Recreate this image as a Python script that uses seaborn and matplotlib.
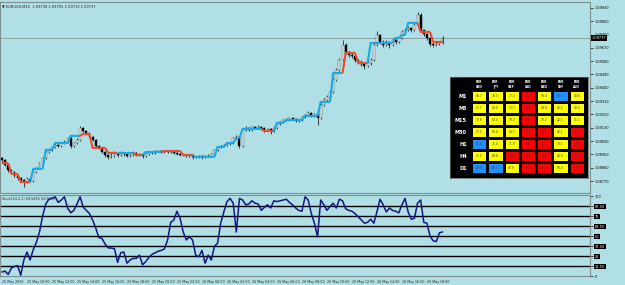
import numpy as np
import pandas as pd
import matplotlib
matplotlib.use("Agg")
import matplotlib.pyplot as plt
import seaborn as sns
from matplotlib.colors import ListedColormap, BoundaryNorm

# ---- EURUSD M15 bars, 25 May 2020 08:00 onward ----
opens = [
    1.08925, 1.08912, 1.08878, 1.08844, 1.08831, 1.08804, 1.08790, 1.08777, 1.08763, 1.08784,
    1.08770, 1.08831, 1.08858, 1.08892, 1.08926, 1.08966, 1.08980, 1.09000, 1.09014, 1.09007,
    1.09027, 1.09034, 1.09061, 1.09007, 1.09027, 1.09048, 1.09129, 1.09108, 1.09088, 1.09068,
    1.09048, 1.09007, 1.08994, 1.08966, 1.08946, 1.08933, 1.08939, 1.08953, 1.08946, 1.08960,
    1.08953, 1.08939, 1.08946, 1.08960, 1.08946, 1.08953, 1.08939, 1.08953, 1.08966, 1.08960,
    1.08973, 1.08973, 1.08966, 1.08973, 1.08966, 1.08973, 1.08960, 1.08953, 1.08946, 1.08946,
    1.08939, 1.08946, 1.08933, 1.08933, 1.08939, 1.08933, 1.08939, 1.08939, 1.08953, 1.08980,
    1.09000, 1.09007, 1.09014, 1.09020, 1.09027, 1.09061, 1.09068, 1.09007, 1.09115, 1.09129,
    1.09115, 1.09135, 1.09129, 1.09135, 1.09129, 1.09115, 1.09122, 1.09108, 1.09129, 1.09156,
    1.09169, 1.09183, 1.09183, 1.09196, 1.09190, 1.09176, 1.09183, 1.09203, 1.09217, 1.09230,
    1.09210, 1.09223, 1.09196, 1.09284, 1.09318, 1.09338, 1.09372, 1.09453, 1.09521, 1.09588,
    1.09690, 1.09642, 1.09622, 1.09615, 1.09588, 1.09575, 1.09561, 1.09548, 1.09568, 1.09588,
    1.09690, 1.09757, 1.09710, 1.09690, 1.09710, 1.09690, 1.09724, 1.09710, 1.09737, 1.09778,
    1.09791, 1.09805, 1.09791, 1.09825, 1.09893, 1.09791, 1.09764, 1.09737, 1.09697, 1.09690,
    1.09697, 1.09703,
]
closes = [
    1.08912, 1.08878, 1.08844, 1.08831, 1.08804, 1.08790, 1.08777, 1.08763, 1.08784, 1.08770,
    1.08831, 1.08858, 1.08892, 1.08926, 1.08966, 1.08980, 1.09000, 1.09014, 1.09007, 1.09027,
    1.09034, 1.09061, 1.09007, 1.09027, 1.09048, 1.09129, 1.09108, 1.09088, 1.09068, 1.09048,
    1.09007, 1.08994, 1.08966, 1.08946, 1.08933, 1.08939, 1.08953, 1.08946, 1.08960, 1.08953,
    1.08939, 1.08946, 1.08960, 1.08946, 1.08953, 1.08939, 1.08953, 1.08966, 1.08960, 1.08973,
    1.08973, 1.08966, 1.08973, 1.08966, 1.08973, 1.08960, 1.08953, 1.08946, 1.08946, 1.08939,
    1.08946, 1.08933, 1.08933, 1.08939, 1.08933, 1.08939, 1.08939, 1.08953, 1.08980, 1.09000,
    1.09007, 1.09014, 1.09020, 1.09027, 1.09061, 1.09068, 1.09007, 1.09115, 1.09129, 1.09115,
    1.09135, 1.09129, 1.09135, 1.09129, 1.09115, 1.09122, 1.09108, 1.09129, 1.09156, 1.09169,
    1.09183, 1.09183, 1.09196, 1.09190, 1.09176, 1.09183, 1.09203, 1.09217, 1.09230, 1.09210,
    1.09223, 1.09196, 1.09284, 1.09318, 1.09338, 1.09372, 1.09453, 1.09521, 1.09588, 1.09690,
    1.09642, 1.09622, 1.09615, 1.09588, 1.09575, 1.09561, 1.09548, 1.09568, 1.09588, 1.09690,
    1.09757, 1.09710, 1.09690, 1.09710, 1.09690, 1.09724, 1.09710, 1.09737, 1.09778, 1.09791,
    1.09805, 1.09791, 1.09825, 1.09893, 1.09791, 1.09764, 1.09737, 1.09697, 1.09690, 1.09697,
    1.09703, 1.09737,
]
highs = [
    1.08935, 1.08920, 1.08885, 1.08852, 1.08840, 1.08812, 1.08800, 1.08785, 1.08795, 1.08792,
    1.08840, 1.08866, 1.08900, 1.08935, 1.08975, 1.08992, 1.09010, 1.09025, 1.09022, 1.09040,
    1.09045, 1.09070, 1.09068, 1.09035, 1.09058, 1.09140, 1.09136, 1.09115, 1.09100, 1.09075,
    1.09055, 1.09015, 1.09000, 1.08975, 1.08955, 1.08960, 1.08970, 1.08962, 1.08975, 1.08968,
    1.08960, 1.08955, 1.08972, 1.08966, 1.08962, 1.08960, 1.08960, 1.08975, 1.08972, 1.08982,
    1.08980, 1.08978, 1.08980, 1.08976, 1.08982, 1.08978, 1.08965, 1.08958, 1.08955, 1.08952,
    1.08955, 1.08950, 1.08940, 1.08948, 1.08945, 1.08946, 1.08950, 1.08960, 1.08988, 1.09008,
    1.09015, 1.09022, 1.09030, 1.09035, 1.09070, 1.09080, 1.09075, 1.09125, 1.09140, 1.09136,
    1.09145, 1.09142, 1.09148, 1.09140, 1.09136, 1.09130, 1.09128, 1.09138, 1.09165, 1.09178,
    1.09192, 1.09195, 1.09205, 1.09202, 1.09198, 1.09190, 1.09212, 1.09226, 1.09242, 1.09236,
    1.09232, 1.09228, 1.09295, 1.09328, 1.09350, 1.09385, 1.09465, 1.09535, 1.09602, 1.09722,
    1.09700, 1.09652, 1.09632, 1.09625, 1.09598, 1.09585, 1.09570, 1.09580, 1.09600, 1.09702,
    1.09785, 1.09765, 1.09720, 1.09722, 1.09718, 1.09735, 1.09732, 1.09748, 1.09790, 1.09802,
    1.09818, 1.09812, 1.09836, 1.09915, 1.09905, 1.09800, 1.09772, 1.09745, 1.09706, 1.09708,
    1.09714, 1.09752,
]
lows = [
    1.08900, 1.08870, 1.08830, 1.08820, 1.08795, 1.08775, 1.08765, 1.08730, 1.08755, 1.08760,
    1.08762, 1.08822, 1.08850, 1.08885, 1.08918, 1.08958, 1.08972, 1.08992, 1.08998, 1.09000,
    1.09018, 1.09028, 1.08995, 1.09000, 1.09020, 1.09042, 1.09100, 1.09080, 1.09060, 1.09040,
    1.09000, 1.08985, 1.08958, 1.08935, 1.08920, 1.08925, 1.08930, 1.08935, 1.08940, 1.08942,
    1.08930, 1.08932, 1.08940, 1.08938, 1.08936, 1.08928, 1.08932, 1.08948, 1.08952, 1.08955,
    1.08965, 1.08958, 1.08960, 1.08960, 1.08962, 1.08952, 1.08945, 1.08940, 1.08938, 1.08930,
    1.08933, 1.08922, 1.08925, 1.08926, 1.08920, 1.08928, 1.08930, 1.08932, 1.08948, 1.08975,
    1.08992, 1.09000, 1.09008, 1.09012, 1.09020, 1.09052, 1.08995, 1.09000, 1.09108, 1.09105,
    1.09108, 1.09120, 1.09122, 1.09118, 1.09100, 1.09108, 1.09090, 1.09100, 1.09122, 1.09150,
    1.09162, 1.09175, 1.09176, 1.09182, 1.09168, 1.09170, 1.09178, 1.09196, 1.09210, 1.09202,
    1.09204, 1.09150, 1.09190, 1.09275, 1.09308, 1.09330, 1.09365, 1.09445, 1.09512, 1.09580,
    1.09630, 1.09608, 1.09600, 1.09575, 1.09560, 1.09545, 1.09530, 1.09538, 1.09555, 1.09580,
    1.09682, 1.09700, 1.09675, 1.09680, 1.09670, 1.09682, 1.09698, 1.09702, 1.09730, 1.09770,
    1.09784, 1.09780, 1.09785, 1.09818, 1.09782, 1.09750, 1.09726, 1.09685, 1.09678, 1.09682,
    1.09690, 1.09698,
]

# trend step line: first bar of each step, its level and direction (1 up / -1 down)
step_start = [0, 3, 6, 10, 14, 17, 22, 26, 29, 34, 38, 43, 46, 52, 58, 62, 69, 72, 75, 77,
              84, 88, 91, 97, 102, 106, 110, 114, 118, 126, 128, 130, 134, 138]
step_level = [1.08892, 1.08818, 1.08763, 1.08852, 1.08980, 1.09027, 1.09075, 1.09088, 1.08994, 1.08960,
              1.08960, 1.08946, 1.08966, 1.08973, 1.08946, 1.08933, 1.09000, 1.09027, 1.09061, 1.09122,
              1.09108, 1.09163, 1.09183, 1.09210, 1.09304, 1.09500, 1.09636, 1.09568, 1.09703, 1.09737,
              1.09757, 1.09839, 1.09778, 1.09710]
step_trend = [-1, -1, -1, 1, 1, 1, 1, -1, -1, -1, 1, -1, 1, -1, -1, 1, 1, 1, 1, 1,
              -1, 1, 1, 1, 1, 1, -1, -1, 1, 1, 1, 1, -1, -1]

# Stochastic(14,1,1) main line
stoch = [
    5, 6, 2, 10, 12, 13, 1, 20, 30, 20,
    33, 42, 55, 75, 90, 96, 97, 99, 92, 95,
    99, 85, 79, 82, 90, 99, 86, 82, 78, 70,
    60, 48, 47, 40, 35, 35, 34, 17, 29, 30,
    16, 20, 22, 22, 26, 14, 18, 23, 27, 29,
    31, 32, 34, 45, 67, 70, 81, 72, 55, 45,
    49, 45, 26, 24, 32, 16, 26, 20, 37, 41,
    66, 80, 93, 97, 91, 55, 97, 95, 89, 90,
    94, 91, 90, 82, 86, 89, 85, 94, 93, 94,
    95, 96, 92, 89, 85, 82, 81, 99, 95, 78,
    66, 49, 95, 89, 82, 87, 91, 85, 96, 94,
    84, 82, 81, 78, 74, 70, 66, 67, 71, 66,
    80, 96, 89, 80, 85, 82, 81, 79, 89, 97,
    80, 71, 72, 91, 95, 67, 66, 50, 44, 43,
    54, 55,
]
stoch_levels = [87.5, 75, 62.5, 50, 37.5, 25, 12.5]

time_labels = ["25 May 2020", "25 May 10:00", "25 May 12:00", "25 May 14:00", "25 May 16:00",
               "25 May 18:00", "25 May 20:00", "25 May 22:00", "26 May 00:00", "26 May 02:00",
               "26 May 04:00", "26 May 06:00", "26 May 08:00", "26 May 10:00", "26 May 12:00",
               "26 May 14:00", "26 May 16:00", "26 May 18:00"]
price_ticks = [1.08770, 1.08860, 1.08950, 1.09040, 1.09130, 1.09220, 1.09310,
               1.09400, 1.09490, 1.09580, 1.09670, 1.09760, 1.09850, 1.09940]
last_price = 1.09737

# ---- currency strength table ----
timeframes = ["M1", "M5", "M15", "M30", "H1", "H4", "D1"]
pairs = ["EUR\nUSD", "EUR\nJPY", "EUR\nGBP", "EUR\nCAD", "EUR\nNZD", "EUR\nCHF", "EUR\nAUD"]
strength = [
    [66.7, 76.3, 77.3, 16.9, 56.4, 85.1, 44.8],
    [31.7, 24.0, 73.3, 9.6, 49.9, 22.2, 40.2],
    [33.6, 59.0, 50.2, 4.0, 33.2, 42.1, 31.1],
    [77.1, 66.6, 24.3, 3.1, 14.0, 42.1, 11.2],
    [81.4, 75.0, 31.9, 3.0, 11.4, 33.1, 9.3],
    [71.3, 69.6, 11.4, 3.0, 9.0, 42.9, 4.0],
    [84.9, 88.1, 47.9, 17.6, 11.4, 66.6, 3.3],
]

sns.set_style("white")
plt.rcParams['font.family'] = ['DejaVu Sans']
BG = '#b0e0e6'
EDGE = '#7f8f8f'
W, H = 625, 285


def px_box(x0, y0, x1, y1):
    return [x0 / W, 1 - y1 / H, (x1 - x0) / W, (y1 - y0) / H]


fig = plt.figure(figsize=(6.25, 2.85), dpi=100, facecolor=BG)
ax = fig.add_axes(px_box(0, 2, 590, 193))
ax2 = fig.add_axes(px_box(0, 195, 590, 276))

bars = np.arange(len(closes))
o = np.array(opens)
c = np.array(closes)
up = c >= o

for a in (ax, ax2):
    a.set_facecolor(BG)
    a.set_xlim(-0.64, 188.2)
    for s in a.spines.values():
        s.set_color(EDGE)
        s.set_linewidth(0.8)
    a.yaxis.tick_right()
    a.tick_params(axis='y', length=2, width=0.5, pad=1.5, labelsize=2.5, colors='black')

# ---- price panel ----
ax.set_ylim(1.08689, 1.09980)
ax.axhline(last_price, color='#8a9a9a', lw=0.6, zorder=1)
ax.vlines(bars, lows, highs, color='black', lw=0.5, zorder=2)
ax.bar(bars[up], (c - o)[up], bottom=o[up], width=0.62, color='#ececec',
       edgecolor='#505050', lw=0.3, zorder=3)
ax.bar(bars[~up], (c - o)[~up], bottom=o[~up], width=0.62, color='black',
       edgecolor='black', lw=0.3, zorder=3)

seg_len = np.diff(step_start + [len(closes)])
level = np.repeat(step_level, seg_len)
ends = step_start[1:] + [len(closes)]
for s, e, t in zip(step_start, ends, step_trend):
    xs = np.arange(max(s - 1, 0), e)
    ax.plot(xs, level[xs], color='#17a9e8' if t > 0 else '#f0482a', lw=1.5,
            solid_capstyle='butt', zorder=4)

ax.set_xticks([])
ax.set_yticks(price_ticks)
ax.set_yticklabels([f"{p:.5f}" for p in price_ticks])
ax.text(1.003, last_price, f"{last_price:.5f}", transform=ax.get_yaxis_transform(),
        fontsize=2.5, color='white', va='center', ha='left',
        bbox=dict(facecolor='black', edgecolor='none', pad=0.6), zorder=10, clip_on=False)
ax.text(0.004, 0.985, "\u25bc EURUSD,M15  1.09738 1.09755 1.09713 1.09737",
        transform=ax.transAxes, fontsize=2.6, va='top', ha='left')

# ---- stochastic panel ----
ax2.set_ylim(0, 101.25)
for lv in stoch_levels:
    ax2.axhline(lv, color='black', lw=1.0, zorder=1)
sns.lineplot(x=bars, y=stoch, ax=ax2, color='#15157f', lw=1.1, zorder=3)
ax2.set_xlabel("")
ax2.set_ylabel("")
yt = [0] + stoch_levels[::-1] + [100]
ax2.set_yticks(yt)
ax2.set_yticklabels(["0", "12.50", "25", "37.50", "50", "62.50", "75", "87.50", "100"])
for lbl in ax2.get_yticklabels()[1:-1]:
    lbl.set_color('white')
    lbl.set_bbox(dict(facecolor='black', edgecolor='none', pad=0.4))
ax2.set_xticks(bars[::8][:len(time_labels)])
ax2.set_xticklabels(time_labels, ha='left', fontsize=2.3)
ax2.tick_params(axis='x', length=2, width=0.5, pad=1)
ax2.text(0.004, 0.97, "Stoch(14,1,1) 54.5455 54.5455", transform=ax2.transAxes,
         fontsize=2.4, va='top', ha='left')

# ---- strength table ----
bg = fig.add_axes(px_box(450, 77, 588, 178))
bg.set_facecolor('black')
bg.set_xticks([])
bg.set_yticks([])
for s in bg.spines.values():
    s.set_color('#606060')
    s.set_linewidth(0.5)

hax = fig.add_axes(px_box(471, 90, 585, 174))
tbl = pd.DataFrame(strength, index=timeframes, columns=pairs)
cmap = ListedColormap(['#ff0000', '#ffff00', '#1e90ff'])
norm = BoundaryNorm([0, 20, 80, 100], 3)
sns.heatmap(tbl, ax=hax, cmap=cmap, norm=norm, cbar=False, annot=True, fmt='.1f',
            xticklabels=True, yticklabels=True,
            annot_kws={'fontsize': 2.2, 'color': '#404040'}, linewidths=1.8, linecolor='black')
hax.xaxis.tick_top()
hax.tick_params(axis='x', length=0, pad=1)
hax.tick_params(axis='y', length=0, pad=3)
hax.set_xticklabels(pairs, fontsize=2.1, color='white', fontweight='bold', rotation=0)
hax.set_yticklabels(timeframes, fontsize=3.6, color='white', fontweight='bold', rotation=0)

fig.savefig("out.png", dpi=100, facecolor=BG)
